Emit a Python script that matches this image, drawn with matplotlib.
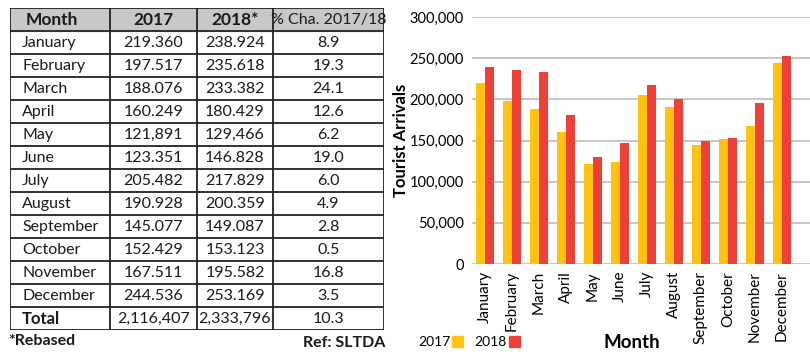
import matplotlib.pyplot as plt
from matplotlib.patches import Patch
import numpy as np

plt.rcParams['font.family'] = ['Lato', 'DejaVu Sans']

months = ["January", "February", "March", "April", "May", "June", "July",
          "August", "September", "October", "November", "December"]
col_2017 = ["219.360", "197.517", "188.076", "160.249", "121,891", "123.351",
            "205.482", "190.928", "145.077", "152.429", "167.511", "244.536"]
col_2018 = ["238.924", "235.618", "233.382", "180.429", "129,466", "146.828",
            "217.829", "200.359", "149.087", "153.123", "195.582", "253.169"]
pct_change = ["8.9", "19.3", "24.1", "12.6", "6.2", "19.0",
              "6.0", "4.9", "2.8", "0.5", "16.8", "3.5"]
total_row = ["Total", "2,116,407", "2,333,796", "10.3"]
header = ["Month", "2017", "2018*", "% Cha. 2017/18"]

arrivals_2017 = [int(s.replace('.', '').replace(',', '')) for s in col_2017]
arrivals_2018 = [int(s.replace('.', '').replace(',', '')) for s in col_2018]

YELLOW = "#FFC20E"
RED = "#EE4036"

fig = plt.figure(figsize=(8.1, 3.6), dpi=100)

# ---- table (left) ----
tab = fig.add_axes([10/810, 30/360, 374/810, 322/360])
widths = [100, 87, 76, 111]
edges = np.concatenate([[0], np.cumsum(widths)])
rows = [header] + [[m, a, b, p] for m, a, b, p in zip(months, col_2017, col_2018, pct_change)] + [total_row]
nrows = len(rows)
tab.set_xlim(0, edges[-1])
tab.set_ylim(nrows, 0)
tab.axis('off')
tab.axhspan(0, 1, color="#c8c8c8", zorder=0)
for r in range(nrows + 1):
    tab.axhline(r, color="#222222", lw=1.3)
for e in edges:
    tab.axvline(e, color="#222222", lw=1.3)
for r, row in enumerate(rows):
    for c, txt in enumerate(row):
        if c == 0:
            x, ha = edges[0] + (16 if r == 0 else 12), 'left'
        else:
            x, ha = (edges[c] + edges[c + 1]) / 2, 'center'
        if r == 0:
            size, weight = (12.5, 'bold') if c < 3 else (11.5, 'normal')
        elif r == nrows - 1:
            size, weight = (12, 'bold') if c == 0 else (11.5, 'normal')
        else:
            size, weight = 11.5, 'normal'
        tab.text(x, r + 0.52, txt, ha=ha, va='center', fontsize=size,
                 fontweight=weight, color="#1a1a1a")

fig.text(8/810, 1 - 341/360, "*Rebased", fontsize=11.5, fontweight='bold', va='center', color="#1a1a1a")
fig.text(385/810, 1 - 343/360, "Ref: SLTDA", fontsize=11.5, fontweight='bold', va='center', ha='right', color="#1a1a1a")

# ---- bar chart (right) ----
ax = fig.add_axes([472/810, 1 - 264/360, 338/810, 247/360])
x = np.arange(len(months))
w = 0.34
ax.bar(x - w/2, arrivals_2017, width=w, color=YELLOW, zorder=2)
ax.bar(x + w/2, arrivals_2018, width=w, color=RED, zorder=2)
ax.set_xlim(-0.48, 12.04)
ax.set_ylim(0, 300000)
yt = np.arange(0, 300001, 50000)
ax.set_yticks(yt)
ax.set_yticklabels([f"{v:,}" if v else "0" for v in yt], fontsize=10.5)
ax.set_xticks(x)
ax.set_xticklabels(months, rotation=90, fontsize=11)
ax.tick_params(length=0)
ax.tick_params(axis='y', pad=6)
ax.tick_params(axis='x', pad=5)
ax.grid(axis='y', color="#bdbdbd", lw=1.2, zorder=0)
for s in ax.spines.values():
    s.set_visible(False)
fig.text(401/810, 1 - 140/360, "Tourist Arrivals", fontsize=12, fontweight='bold',
         rotation=90, ha='center', va='center')

fig.legend(handles=[Patch(color=YELLOW, label="2017"), Patch(color=RED, label="2018")],
           loc='center left', bbox_to_anchor=(418/810, 1 - 342/360), ncol=2, frameon=False,
           markerfirst=False, handlelength=0.8, handleheight=0.8, handletextpad=0.15,
           columnspacing=0.8, fontsize=10, borderpad=0, borderaxespad=0)
fig.text(632/810, 1 - 342/360, "Month", fontsize=13.5, fontweight='bold', ha='center', va='center')

fig.savefig("out.png", dpi=100)
